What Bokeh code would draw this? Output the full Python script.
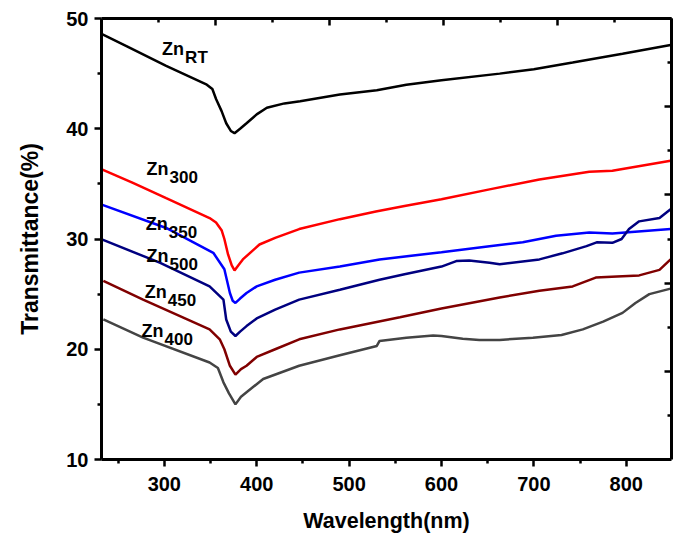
from bokeh.plotting import figure
from bokeh.models import LinearAxis, Range1d, FixedTicker
from bokeh.core.properties import value
from bokeh.embed import file_html
from bokeh.resources import INLINE

# ---- data ----
x_rt = [232, 259, 302, 346, 352, 356, 362, 367, 372, 376, 382, 389, 400, 411, 430, 447, 490, 530, 562, 600, 663, 700, 742, 796, 848]
y_rt = [48.6, 47.5, 45.7, 44.0, 43.6, 42.7, 41.6, 40.5, 39.8, 39.6, 40.0, 40.5, 41.3, 41.9, 42.3, 42.5, 43.1, 43.5, 44.0, 44.4, 45.0, 45.4, 46.0, 46.8, 47.6]

x_300 = [233, 266, 302, 349, 356, 362, 365, 369, 373, 376, 380, 385, 395, 403, 420, 446, 490, 529, 560, 600, 652, 706, 760, 785, 848]
y_300 = [36.3, 35.1, 33.7, 31.9, 31.5, 30.8, 30.0, 28.6, 27.6, 27.15, 27.6, 28.15, 28.9, 29.5, 30.1, 30.9, 31.8, 32.5, 33.0, 33.6, 34.5, 35.4, 36.1, 36.2, 37.1]

x_350 = [233, 302, 353, 365, 371, 374, 377, 382, 389, 400, 420, 446, 490, 533, 600, 652, 688, 724, 760, 785, 848]
y_350 = [33.1, 31.0, 28.75, 27.25, 25.1, 24.4, 24.2, 24.6, 25.1, 25.7, 26.3, 26.95, 27.5, 28.15, 28.8, 29.35, 29.7, 30.3, 30.6, 30.5, 30.9]

x_500 = [233, 295, 349, 364, 367, 372, 377, 382, 389, 400, 420, 446, 490, 533, 560, 600, 616, 630, 652, 663, 706, 731, 757, 768, 785, 795, 803, 814, 836, 848]
y_500 = [29.95, 27.85, 25.7, 24.5, 22.7, 21.6, 21.2, 21.6, 22.1, 22.8, 23.6, 24.5, 25.4, 26.3, 26.8, 27.5, 28.0, 28.05, 27.85, 27.7, 28.15, 28.7, 29.35, 29.7, 29.65, 30.0, 30.9, 31.6, 31.9, 32.7]

x_450 = [234, 277, 349, 360, 365, 371, 377, 383, 389, 400, 420, 446, 490, 555, 600, 663, 706, 742, 767, 790, 814, 836, 848]
y_450 = [26.2, 24.5, 21.8, 20.9, 20.0, 18.5, 17.7, 18.2, 18.5, 19.3, 20.0, 20.9, 21.8, 22.9, 23.7, 24.7, 25.3, 25.7, 26.5, 26.6, 26.7, 27.2, 28.15]

x_400 = [234, 277, 349, 358, 364, 370, 377, 383, 389, 407, 446, 490, 530, 533, 562, 591, 600, 623, 641, 663, 699, 730, 753, 775, 796, 810, 825, 848]
y_400 = [22.7, 21.05, 18.8, 18.3, 17.0, 16.0, 15.0, 15.7, 16.1, 17.3, 18.5, 19.45, 20.3, 20.75, 21.05, 21.25, 21.2, 20.95, 20.85, 20.85, 21.05, 21.3, 21.8, 22.5, 23.3, 24.2, 25.0, 25.5]

series = [
    (x_rt, y_rt, "#000000"),
    (x_300, y_300, "#ff0000"),
    (x_350, y_350, "#0000ff"),
    (x_500, y_500, "#000080"),
    (x_450, y_450, "#800000"),
    (x_400, y_400, "#444444"),
]

label_main = ["Zn", "Zn", "Zn", "Zn", "Zn", "Zn"]
label_sub = ["RT", "300", "350", "500", "450", "400"]
label_x = [297.6, 280.8, 280.0, 280.8, 278.9, 275.4]
label_y = [47.19, 36.31, 31.32, 28.42, 25.19, 21.65]

x_ticks = [300, 400, 500, 600, 700, 800]
x_minor = [250, 350, 450, 550, 650, 750, 850]
y_ticks = [10, 20, 30, 40, 50]
y_minor = [15, 25, 35, 45]

FONT = "Liberation Sans"

p = figure(frame_width=570, frame_height=441,
           x_range=Range1d(232, 849), y_range=Range1d(10, 50),
           output_backend="svg", toolbar_location=None,
           min_border_left=101, min_border_right=4, min_border_top=18, min_border_bottom=62)
p.grid.visible = False
p.outline_line_color = None
p.background_fill_color = "white"
p.border_fill_color = "white"

for xs, ys, c in series:
    p.line(xs, ys, line_color=c, line_width=2.5)

p.text(x=label_x, y=label_y, text=label_main, text_font=value(FONT), text_font_style="bold",
       text_font_size="18px", text_baseline="alphabetic", text_align="left", text_color="black")
p.text(x=label_x, y=label_y, text=label_sub, text_font=value(FONT), text_font_style="bold",
       text_font_size="17px", text_baseline="alphabetic", text_align="left", text_color="black",
       x_offset=23, y_offset=8)

def style_main(ax):
    ax.axis_line_width = 3
    ax.axis_line_color = "black"
    ax.major_tick_line_width = 2.5
    ax.minor_tick_line_width = 2.5
    ax.major_tick_in = 0
    ax.major_tick_out = 7
    ax.minor_tick_in = 0
    ax.minor_tick_out = 4
    ax.major_label_text_font = FONT
    ax.major_label_text_font_style = "bold"
    ax.major_label_text_font_size = "20px"
    ax.major_label_text_color = "black"
    ax.axis_label_text_font = FONT
    ax.axis_label_text_font_style = "bold"
    ax.axis_label_text_color = "black"

xa = p.xaxis[0]
style_main(xa)
xa.ticker = FixedTicker(ticks=x_ticks, minor_ticks=x_minor)
xa.axis_label = "Wavelength(nm)"
xa.axis_label_text_font_size = "21.5px"
xa.major_label_standoff = 10
xa.axis_label_standoff = 15

ya = p.yaxis[0]
style_main(ya)
ya.ticker = FixedTicker(ticks=y_ticks, minor_ticks=y_minor)
ya.axis_label = "Transmittance(%)"
ya.axis_label_text_font_size = "23px"
ya.major_label_standoff = 6
ya.axis_label_standoff = 20

# mirror axes (top / right), inward ticks, no labels
p.extra_x_ranges = {"top": Range1d(0, 1)}
p.extra_y_ranges = {"right": Range1d(0, 1)}
frac_major = [0.2, 0.4, 0.6, 0.8, 1.0]
frac_minor = [0.1, 0.3, 0.5, 0.7, 0.9]

for rng, loc in (("top", "above"), ("right", "right")):
    if loc == "above":
        ax = LinearAxis(x_range_name=rng)
    else:
        ax = LinearAxis(y_range_name=rng)
    ax.ticker = FixedTicker(ticks=frac_major, minor_ticks=frac_minor)
    ax.axis_line_width = 3
    ax.axis_line_color = "black"
    ax.major_tick_line_width = 2.5
    ax.minor_tick_line_width = 2.5
    ax.major_tick_in = 7
    ax.major_tick_out = 0
    ax.minor_tick_in = 4
    ax.minor_tick_out = 0
    ax.major_label_text_font_size = "0px"
    ax.major_label_standoff = 0
    ax.major_label_text_alpha = 0
    p.add_layout(ax, loc)

open("out.html", "w").write(file_html(p, INLINE))
